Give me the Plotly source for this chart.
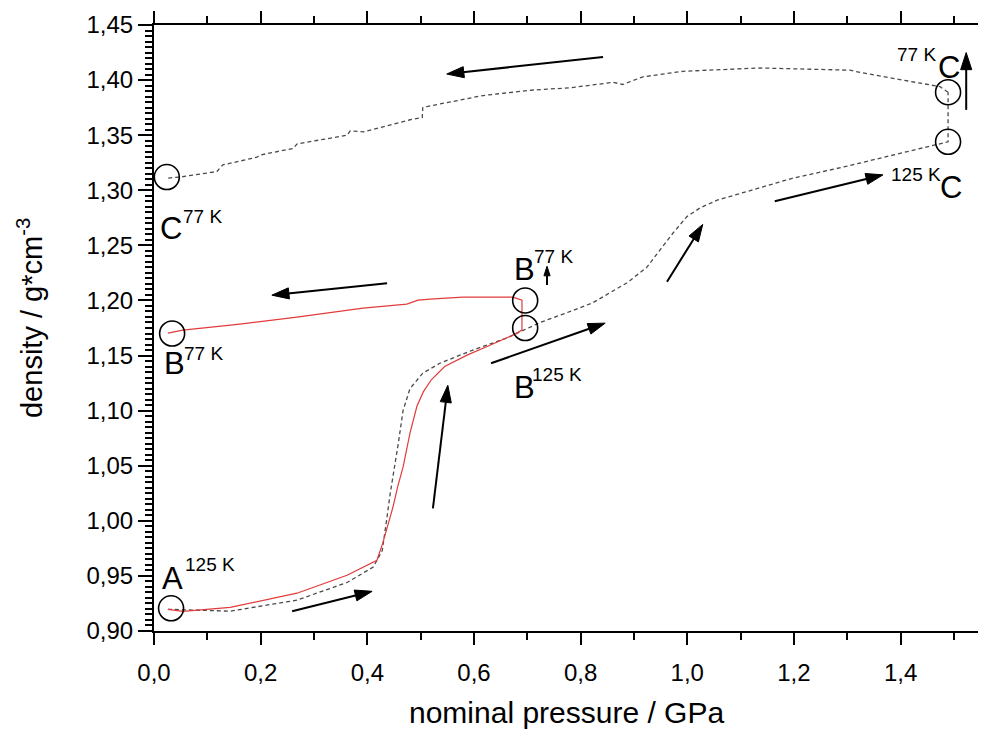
import plotly.graph_objects as go

# ---------------- data ----------------
# red solid path: 125 K compression A -> B, heating to 77 K step, decompression at 77 K
red_x = [0.026, 0.054, 0.143, 0.268, 0.362, 0.418, 0.429, 0.438, 0.448, 0.457, 0.467, 0.480, 0.493,
         0.505, 0.520, 0.545, 0.587, 0.630, 0.673, 0.690, 0.690, 0.673, 0.579, 0.518, 0.495,
         0.474, 0.392, 0.268, 0.161, 0.054, 0.026]
red_y = [0.9197, 0.9179, 0.9215, 0.9343, 0.9506, 0.9642, 0.9797, 0.9950, 1.0123, 1.0310, 1.0487, 1.0795, 1.1040,
         1.1170, 1.1280, 1.1400, 1.1504, 1.1594, 1.1685, 1.1731, 1.2003, 1.2030, 1.2030, 1.2012, 1.2003,
         1.1967, 1.1930, 1.1849, 1.1785, 1.1731, 1.1703]

# dashed path: 125 K compression A -> C, then to 77 K
dash_up_x = [0.026, 0.143, 0.268, 0.362, 0.411, 0.428, 0.436, 0.443, 0.458, 0.467, 0.480, 0.504,
             0.536, 0.598, 0.662, 0.724, 0.786, 0.823, 0.887, 0.924, 0.949, 0.973, 0.999,
             1.024, 1.056, 1.104, 1.198, 1.292, 1.386, 1.480, 1.489, 1.489]
dash_up_y = [0.9197, 0.918, 0.928, 0.944, 0.958, 0.973, 1.000, 1.025, 1.070, 1.100, 1.120, 1.134,
             1.143, 1.155, 1.166, 1.180, 1.191, 1.198, 1.216, 1.230, 1.246, 1.261, 1.276,
             1.284, 1.291, 1.298, 1.311, 1.321, 1.332, 1.343, 1.344, 1.389]

# dashed path: decompression at 77 K, C -> C(77 K)
dash_down_x = [1.489, 1.474, 1.324, 1.305, 1.136, 0.992, 0.917, 0.879, 0.861, 0.780, 0.711,
               0.617, 0.512, 0.504, 0.503, 0.480, 0.392, 0.368, 0.362, 0.268, 0.261, 0.199,
               0.193, 0.129, 0.118, 0.049, 0.024]
dash_down_y = [1.389, 1.394, 1.407, 1.409, 1.411, 1.408, 1.403, 1.396, 1.398, 1.393, 1.391,
               1.386, 1.376, 1.375, 1.366, 1.364, 1.353, 1.354, 1.350, 1.342, 1.338, 1.332,
               1.330, 1.323, 1.317, 1.312, 1.311]

# marked states (circles)
circle_x = [0.032, 0.034, 0.024, 0.696, 0.696, 1.489, 1.489]
circle_y = [0.9206, 1.170, 1.312, 1.200, 1.175, 1.389, 1.344]

# arrows: tail -> head
arrow_tail_x = [0.259, 0.523, 0.632, 0.962, 1.164, 1.523, 0.842, 0.437, 0.737]
arrow_tail_y = [0.918, 1.0114, 1.143, 1.217, 1.290, 1.373, 1.421, 1.2157, 1.214]
arrow_head_x = [0.409, 0.551, 0.846, 1.029, 1.367, 1.523, 0.549, 0.221, 0.737]
arrow_head_y = [0.936, 1.123, 1.1794, 1.269, 1.314, 1.425, 1.4055, 1.2048, 1.231]
arrow_head_size = [18, 18, 18, 18, 18, 18, 18, 18, 10]

# state labels: letter and superscript
label_text = ["A", "B", "C", "B", "B", "C", "C"]
label_x = [0.0338, 0.0375, 0.0319, 0.6938, 0.6938, 1.4907, 1.4945]
label_y = [0.9479, 1.1431, 1.2657, 1.2284, 1.1213, 1.4110, 1.3029]
sup_text = ["125 K", "77 K", "77 K", "77 K", "125 K", "77 K", "125 K"]
sup_x = [0.105, 0.0919, 0.090, 0.750, 0.7557, 1.4307, 1.4288]
sup_y = [0.9606, 1.1522, 1.2766, 1.2402, 1.1331, 1.4228, 1.3147]

x_ticks = [0.0, 0.2, 0.4, 0.6, 0.8, 1.0, 1.2, 1.4]
y_ticks = [0.90, 0.95, 1.00, 1.05, 1.10, 1.15, 1.20, 1.25, 1.30, 1.35, 1.40, 1.45]

x_title = "nominal pressure / GPa"
y_title = "density / g*cm<sup>-3</sup>"

# ---------------- figure ----------------
FONT = "Liberation Sans, Arial, Helvetica, sans-serif"
fig = go.Figure()

gray = "#4a4a4a"
fig.add_trace(go.Scatter(x=dash_up_x, y=dash_up_y, mode="lines",
                         line=dict(color=gray, width=1.3, dash="4px,3px")))
fig.add_trace(go.Scatter(x=dash_down_x, y=dash_down_y, mode="lines",
                         line=dict(color=gray, width=1.3, dash="4px,3px")))
fig.add_trace(go.Scatter(x=red_x, y=red_y, mode="lines",
                         line=dict(color="#e23b3b", width=1.2)))
fig.add_trace(go.Scatter(x=circle_x, y=circle_y, mode="markers",
                         marker=dict(symbol="circle-open", size=25, color="black",
                                     line=dict(width=1.6, color="black"))))

for tx, ty, hx, hy, hs in zip(arrow_tail_x, arrow_tail_y, arrow_head_x, arrow_head_y, arrow_head_size):
    fig.add_trace(go.Scatter(x=[tx, hx], y=[ty, hy], mode="lines+markers",
                             line=dict(color="black", width=2),
                             marker=dict(symbol="arrow", size=[0, hs], angleref="previous",
                                         color="#000000", opacity=1,
                                         line=dict(width=1, color="#000000"))))

for t, x, y in zip(label_text, label_x, label_y):
    fig.add_annotation(x=x, y=y, xref="x", yref="y", text=t, showarrow=False,
                       font=dict(size=31, family=FONT, color="black"),
                       xanchor="center", yanchor="middle")
for t, x, y in zip(sup_text, sup_x, sup_y):
    fig.add_annotation(x=x, y=y, xref="x", yref="y", text=t, showarrow=False,
                       font=dict(size=19, family=FONT, color="black"),
                       xanchor="center", yanchor="middle")

# axis titles
fig.add_annotation(x=0.4994, y=-0.1337, xref="paper", yref="paper", text=x_title,
                   showarrow=False, xanchor="center", yanchor="middle",
                   font=dict(size=30, family=FONT, color="black"))
fig.add_annotation(x=-0.1503, y=0.5165, xref="paper", yref="paper", text=y_title,
                   showarrow=False, xanchor="center", yanchor="middle", textangle=-90,
                   font=dict(size=29, family=FONT, color="black"))

axis_common = dict(showline=True, linewidth=2, linecolor="black", mirror="allticks",
                   ticks="outside", tickwidth=2, tickcolor="black",
                   showgrid=False, zeroline=False,
                   tickfont=dict(size=24, family=FONT, color="black"))

fig.update_xaxes(range=[0, 1.547], tickvals=x_ticks, tickformat=".1f", ticklen=12,
                 ticklabelstandoff=7,
                 minor=dict(dtick=0.1, tick0=0, ticks="outside", ticklen=7, tickwidth=1.5,
                            tickcolor="black", showgrid=False),
                 **axis_common)
fig.update_yaxes(range=[0.9, 1.45], tickvals=y_ticks, tickformat=".2f", ticklen=14,
                 minor=dict(dtick=0.005, tick0=0.9, ticks="outside", ticklen=7, tickwidth=1.5,
                            tickcolor="black", showgrid=False),
                 **axis_common)

fig.update_layout(width=986, height=729, margin=dict(l=146, r=15, t=17, b=106, autoexpand=False),
                  plot_bgcolor="white", paper_bgcolor="white", showlegend=False,
                  separators=",.", font=dict(family=FONT, color="black"))

fig.write_html("out.html")
